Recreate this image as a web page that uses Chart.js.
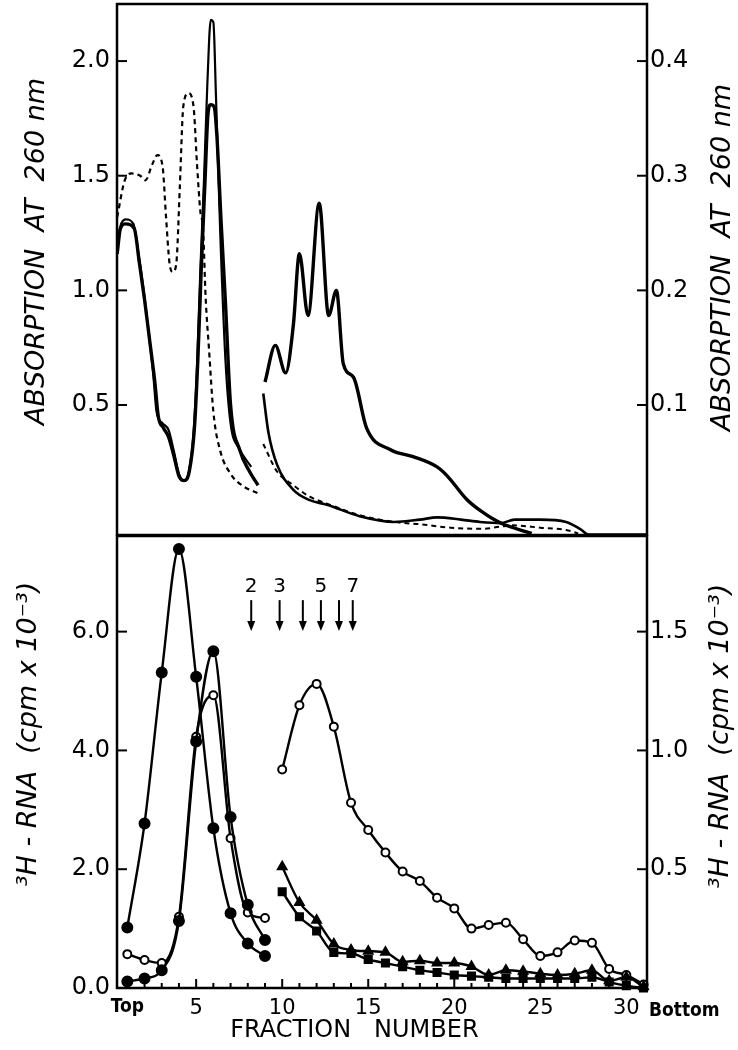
<!DOCTYPE html>
<html>
<head>
<meta charset="utf-8">
<script src="https://cdn.jsdelivr.net/npm/chart.js@4.4.1/dist/chart.umd.min.js"></script>
<style>
  html,body{margin:0;padding:0;background:#fff;}
  #wrap{position:relative;width:738px;height:1050px;}
  canvas{position:absolute;left:0;}
  #absChart{top:0;}
  #cpmChart{top:535px;}
</style>
</head>
<body>
<div id="wrap">
  <canvas id="absChart" width="738" height="536"></canvas>
  <canvas id="cpmChart" width="738" height="515"></canvas>
</div>
<script>
// ---- upper panel, first gradient (left axis, A260) ----
const dashFrac  = [0.41,0.85,1.25,1.75,2.05,2.45,2.75,3.05,3.25,3.45,3.65,3.85,4.05,4.25,4.55,4.85,5.05,5.25,5.4,5.55,5.75,6.0,6.4,7.0,7.75,8.6];
const dashAbs   = [1.32,1.48,1.51,1.50,1.48,1.55,1.59,1.54,1.32,1.12,1.08,1.12,1.45,1.80,1.86,1.80,1.55,1.34,1.27,0.97,0.74,0.47,0.30,0.20,0.145,0.115];
const thinFrac  = [0.41,0.6,0.9,1.35,1.65,1.95,2.25,2.5,2.7,3.05,3.4,3.7,4.0,4.3,4.55,4.85,5.05,5.25,5.45,5.65,5.85,6.0,6.15,6.4,6.7,7.0,7.5,8.2];
const thinAbs   = [1.19,1.28,1.31,1.29,1.16,1.00,0.81,0.64,0.47,0.42,0.39,0.30,0.20,0.17,0.20,0.38,0.67,1.10,1.47,1.90,2.18,2.17,1.85,1.25,0.70,0.42,0.31,0.23];
const thickFrac = [0.41,0.6,0.9,1.4,1.7,2.0,2.3,2.6,2.8,3.1,3.4,3.7,4.0,4.3,4.6,4.9,5.1,5.3,5.5,5.7,5.85,6.05,6.2,6.45,6.7,7.0,7.55,8.1,8.6];
const thickAbs  = [1.16,1.27,1.29,1.27,1.12,0.96,0.78,0.60,0.45,0.40,0.36,0.28,0.19,0.17,0.21,0.40,0.70,1.10,1.45,1.78,1.81,1.80,1.68,1.30,0.95,0.50,0.30,0.21,0.15];

// ---- upper panel, second gradient (right axis) ----
const peaksFrac = [9.0,9.6,10.2,10.65,11.0,11.5,12.15,12.7,13.15,13.55,14.15,14.9,16.3,17.6,19.0,19.6,20.7,21.5,22.7,24.5];
const peaksAbs  = [0.120,0.152,0.128,0.170,0.232,0.178,0.276,0.178,0.200,0.136,0.124,0.080,0.061,0.055,0.046,0.038,0.018,0.008,-0.003,-0.012];
const baseFrac  = [8.9,9.2,9.7,10.65,11.6,12.6,14.5,16.5,18.0,19.0,20.4,21.5,22.7,23.5,25.0,26.5,27.3,27.8,31.2];
const baseAbs   = [0.110,0.076,0.048,0.026,0.017,0.013,0.003,-0.002,0.000,0.002,0.000,-0.002,-0.003,0.000,0.000,-0.002,-0.008,-0.013,-0.013];
const dash2Frac = [8.9,9.7,10.65,11.6,12.6,14.5,16.5,18.0,19.8,21.7,22.7,23.4,25.0,26.5,27.2];
const dash2Abs  = [0.066,0.042,0.030,0.020,0.014,0.004,-0.002,-0.004,-0.007,-0.008,-0.006,-0.005,-0.007,-0.009,-0.012];

// ---- lower panel, 3H-RNA ----
const frac1 = [1,2,3,4,5,6,7,8,9];
const cpmA  = [1.02,2.77,5.31,7.39,5.24,2.69,1.26,0.75,0.54];   // filled, left axis
const cpmB  = [0.11,0.16,0.30,1.13,4.15,5.67,2.88,1.40,0.81];   // filled, left axis
const cpmC  = [0.57,0.47,0.42,1.20,4.23,4.93,2.52,1.27,1.18];   // open, left axis
const frac2 = [10,11,12,13,14,15,16,17,18,19,20,21,22,23,24,25,26,27,28,29,30,31];
const cpmD  = [0.92,1.19,1.28,1.10,0.78,0.665,0.57,0.49,0.45,0.38,0.335,0.25,0.265,0.275,0.205,0.135,0.15,0.20,0.19,0.08,0.055,0.015]; // open, right axis
const cpmE  = [0.51,0.36,0.285,0.185,0.16,0.155,0.15,0.11,0.115,0.105,0.105,0.09,0.055,0.075,0.07,0.06,0.055,0.06,0.075,0.03,0.045,0.005];
const cpmF  = [0.405,0.30,0.24,0.15,0.145,0.12,0.105,0.09,0.075,0.065,0.055,0.05,0.045,0.04,0.04,0.04,0.04,0.04,0.045,0.025,0.01,0.0];

// marker arrows (S-values)
const arrowFrac = [8.2,9.85,11.2,12.25,13.3,14.1];
const arrowText = ['2','3','','5','','7'];
const arrowTop = 6.53, arrowTip = 6.01, arrowLabelAt = 6.75;

const xTicks = [1,2,3,4,5,6,7,8,9,10,11,12,13,14,15,16,17,18,19,20,21,22,23,24,25,26,27,28,29,30,31];
const absTicksL = [0.5,1.0,1.5,2.0];
const absTicksR = [0.1,0.2,0.3,0.4];
const cpmTicksL = [0,2,4,6];
const cpmTicksR = [0.5,1.0,1.5];

const FONT = '"DejaVu Sans", sans-serif';
const NARROW = '"Liberation Sans Narrow", "DejaVu Sans Condensed", "Liberation Sans", sans-serif';
Chart.defaults.font.family = FONT;
Chart.defaults.color = '#000';

const pts = (xs, ys) => xs.map((x, i) => ({x, y: ys[i]}));

const framePlugin = {
  id: 'frame',
  afterDraw(chart) {
    const {ctx, chartArea: a} = chart;
    ctx.save();
    ctx.lineWidth = 2.5; ctx.strokeStyle = '#000';
    ctx.strokeRect(a.left, a.top, a.right - a.left, a.bottom - a.top);
    ctx.restore();
  }
};

const innerTicks = {
  id: 'innerTicks',
  afterDraw(chart) {
    const {ctx, chartArea: a} = chart;
    ctx.save(); ctx.strokeStyle = '#000'; ctx.lineWidth = 2;
    Object.values(chart.scales).forEach(s => {
      if (!s.options.display) return;
      s.ticks.forEach(t => {
        const p = s.getPixelForValue(t.value);
        ctx.beginPath();
        if (s.axis === 'x') { const len = t.value % 5 === 0 ? 9 : 5; ctx.moveTo(p, a.bottom); ctx.lineTo(p, a.bottom - len); }
        else if (s.position === 'left') { ctx.moveTo(a.left, p); ctx.lineTo(a.left + 10, p); }
        else { ctx.moveTo(a.right, p); ctx.lineTo(a.right - 10, p); }
        ctx.stroke();
      });
    });
    ctx.restore();
  }
};

// rotated titles that read bottom to top on both sides
const sideTitles = {
  id: 'sideTitles',
  afterDraw(chart, args, opts) {
    const {ctx, chartArea: a} = chart;
    ctx.save(); ctx.fillStyle = '#000'; ctx.textAlign = 'center'; ctx.textBaseline = 'middle';
    (opts.items || []).forEach(it => {
      const s = chart.scales[it.scale];
      ctx.save();
      ctx.font = 'italic ' + it.size + 'px ' + FONT;
      ctx.translate(s.left + it.dx, (a.top + a.bottom) / 2 + it.dy);
      ctx.rotate(-Math.PI / 2);
      ctx.fillText(it.text, 0, 0);
      ctx.restore();
    });
    ctx.restore();
  }
};

function yAxis(pos, min, max, ticks, width, pad) {
  return {
    type: 'linear', position: pos, min, max,
    afterBuildTicks: s => { s.ticks = ticks.map(v => ({value: v})); },
    afterFit: s => { s.width = width; s.paddingTop = 0; s.paddingBottom = 0; },
    grid: {display: false, drawTicks: false},
    border: {display: false},
    ticks: {font: {size: 24}, color: '#000', padding: pad, callback: v => Number(v).toFixed(1)}
  };
}

const lineDs = (data, axis, width, dash) => ({
  data, yAxisID: axis, borderColor: '#000', borderWidth: width, borderDash: dash || [],
  pointRadius: 0, cubicInterpolationMode: 'monotone', fill: false
});

new Chart(document.getElementById('absChart'), {
  type: 'line',
  data: {datasets: [
    lineDs(pts(dashFrac, dashAbs), 'yL', 2.2, [5, 4]),
    lineDs(pts(thinFrac, thinAbs), 'yL', 2.2),
    lineDs(pts(thickFrac, thickAbs), 'yL', 3.4),
    lineDs(pts(peaksFrac, peaksAbs), 'yR', 3.4),
    lineDs(pts(baseFrac, baseAbs), 'yR', 2.6),
    lineDs(pts(dash2Frac, dash2Abs), 'yR', 2, [5, 4])
  ]},
  options: {
    responsive: false, animation: false,
    layout: {autoPadding: false, padding: {top: 4, bottom: 1, left: 0, right: 0}},
    plugins: {legend: {display: false}, tooltip: {enabled: false},
      sideTitles: {items: [
        {scale: 'yL', text: 'ABSORPTION  AT  260 nm', dx: 37, dy: -18, size: 27},
        {scale: 'yR', text: 'ABSORPTION  AT  260 nm', dx: 76, dy: -12, size: 27}
      ]}},
    scales: {
      x: {type: 'linear', min: 0.4, max: 31.2, display: false},
      yL: yAxis('left', -0.067, 2.249, absTicksL, 117, 7),
      yR: yAxis('right', -0.0134, 0.4498, absTicksR, 91, 3)
    }
  },
  plugins: [framePlugin, innerTicks, sideTitles]
});

const arrowsPlugin = {
  id: 'arrows',
  afterDatasetsDraw(chart) {
    const {ctx} = chart; const xs = chart.scales.x, ys = chart.scales.yL;
    ctx.save(); ctx.strokeStyle = '#000'; ctx.fillStyle = '#000'; ctx.lineWidth = 2;
    ctx.font = '20px ' + FONT; ctx.textAlign = 'center'; ctx.textBaseline = 'middle';
    arrowFrac.forEach((f, i) => {
      const x = xs.getPixelForValue(f);
      const y0 = ys.getPixelForValue(arrowTop), y1 = ys.getPixelForValue(arrowTip);
      ctx.beginPath(); ctx.moveTo(x, y0); ctx.lineTo(x, y1 - 8); ctx.stroke();
      ctx.beginPath(); ctx.moveTo(x - 4, y1 - 10); ctx.lineTo(x + 4, y1 - 10); ctx.lineTo(x, y1); ctx.closePath(); ctx.fill();
      if (arrowText[i]) ctx.fillText(arrowText[i], x, ys.getPixelForValue(arrowLabelAt));
    });
    ctx.restore();
  }
};

const xTitle = {
  id: 'xTitle',
  afterDraw(chart) {
    const {ctx, chartArea: a} = chart; const xs = chart.scales.x;
    ctx.save(); ctx.fillStyle = '#000'; ctx.textBaseline = 'middle';
    ctx.font = '24px ' + FONT; ctx.textAlign = 'center';
    ctx.fillText('FRACTION   NUMBER', a.left + 0.448 * (a.right - a.left), xs.top + 43);
    ctx.font = 'bold 19px ' + NARROW; ctx.textAlign = 'left';
    ctx.fillText('Bottom', a.right + 2, xs.top + 23);
    ctx.restore();
  }
};

const markDs = (data, axis, style, open) => ({
  data, yAxisID: axis, borderColor: '#000', borderWidth: 2.4,
  pointStyle: style, pointRadius: open ? 4 : 5, pointBorderWidth: 2,
  pointBackgroundColor: open ? '#fff' : '#000', pointBorderColor: '#000',
  cubicInterpolationMode: 'monotone', fill: false, clip: 8
});

new Chart(document.getElementById('cpmChart'), {
  type: 'line',
  data: {datasets: [
    markDs(pts(frac1, cpmA), 'yL', 'circle', false),
    markDs(pts(frac1, cpmB), 'yL', 'circle', false),
    markDs(pts(frac1, cpmC), 'yL', 'circle', true),
    markDs(pts(frac2, cpmF), 'yR', 'rect', false),
    markDs(pts(frac2, cpmE), 'yR', 'triangle', false),
    markDs(pts(frac2, cpmD), 'yR', 'circle', true)
  ]},
  options: {
    responsive: false, animation: false,
    layout: {autoPadding: false, padding: {top: 1, bottom: 0, left: 0, right: 0}},
    plugins: {legend: {display: false}, tooltip: {enabled: false},
      sideTitles: {items: [
        {scale: 'yL', text: '³H - RNA  (cpm x 10⁻³)', dx: 29, dy: -28, size: 27},
        {scale: 'yR', text: '³H - RNA  (cpm x 10⁻³)', dx: 74, dy: -26, size: 27}
      ]}},
    scales: {
      x: {
        type: 'linear', position: 'bottom', min: 0.4, max: 31.2,
        afterBuildTicks: s => { s.ticks = xTicks.map(v => ({value: v})); },
        afterFit: s => { s.height = 62; s.paddingLeft = 0; s.paddingRight = 0; },
        grid: {display: false, drawTicks: false}, border: {display: false},
        ticks: {
          autoSkip: false, maxRotation: 0, padding: 8, color: '#000',
          font: c => (c.tick && c.tick.value === 1) ? {family: NARROW, size: 19, weight: 'bold'} : {family: FONT, size: 21},
          callback: v => v === 1 ? 'Top' : (v % 5 === 0 ? String(v) : '')
        }
      },
      yL: yAxis('left', 0, 7.61, cpmTicksL, 117, 7),
      yR: yAxis('right', 0, 1.9025, cpmTicksR, 91, 3)
    }
  },
  plugins: [framePlugin, innerTicks, sideTitles, arrowsPlugin, xTitle]
});
</script>
</body>
</html>
